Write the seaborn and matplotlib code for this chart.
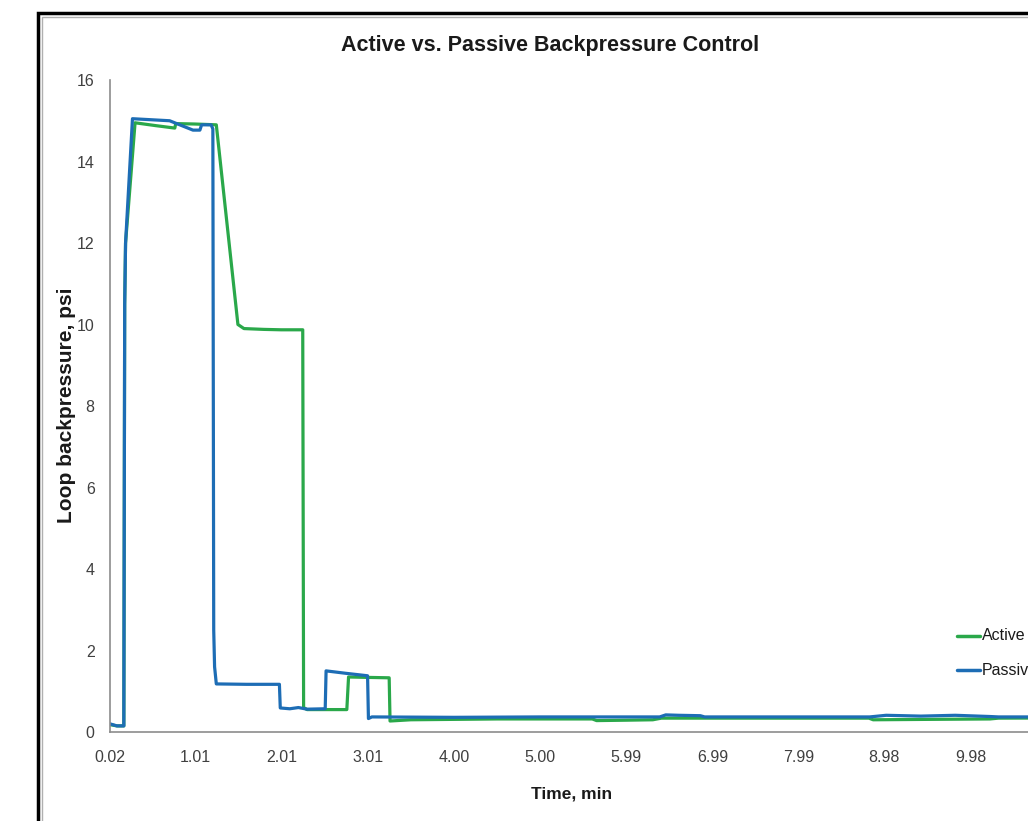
import numpy as np
import pandas as pd
import matplotlib.pyplot as plt
import matplotlib.patches as patches
import seaborn as sns

# readings (time in min, backpressure in psi)
active_time = [0.02, 0.10, 0.18, 0.19, 0.20, 0.31, 0.55, 0.77, 0.78, 1.00, 1.25,
               1.50, 1.57, 1.80, 2.00, 2.25, 2.26, 2.30, 2.50, 2.76, 2.78, 3.00,
               3.25, 3.26, 3.50, 4.50, 5.60, 5.65, 6.00, 6.30, 6.40, 7.50, 8.80,
               8.85, 9.50, 10.20, 10.30, 12.00]
active_psi = [0.18, 0.15, 0.15, 10.5, 12.0, 14.95, 14.88, 14.82, 14.93, 14.92, 14.90,
              10.0, 9.90, 9.88, 9.87, 9.87, 0.60, 0.55, 0.55, 0.55, 1.35, 1.34,
              1.33, 0.27, 0.30, 0.32, 0.32, 0.28, 0.29, 0.30, 0.34, 0.34, 0.34,
              0.30, 0.31, 0.32, 0.34, 0.35]

passive_time = [0.02, 0.10, 0.18, 0.19, 0.20, 0.28, 0.71, 0.98, 1.06, 1.08, 1.19,
                1.21, 1.22, 1.23, 1.25, 1.60, 1.98, 1.99, 2.10, 2.20, 2.30, 2.51,
                2.52, 2.75, 3.00, 3.01, 3.05, 4.00, 5.00, 6.38, 6.45, 6.60, 6.85,
                6.90, 8.00, 8.81, 9.00, 9.40, 9.80, 10.20, 10.30, 12.00]
passive_psi = [0.20, 0.15, 0.15, 10.5, 12.0, 15.05, 15.0, 14.77, 14.77, 14.90, 14.90,
               14.80, 2.50, 1.60, 1.18, 1.17, 1.17, 0.59, 0.57, 0.60, 0.56, 0.57,
               1.50, 1.44, 1.38, 0.33, 0.37, 0.36, 0.37, 0.37, 0.42, 0.41, 0.40,
               0.37, 0.37, 0.37, 0.41, 0.39, 0.41, 0.38, 0.37, 0.37]

tick_pos = [0.02, 1.01, 2.01, 3.01, 4.00, 5.00, 5.99, 6.99, 7.99, 8.98, 9.98]
tick_labels = ['0.02', '1.01', '2.01', '3.01', '4.00', '5.00', '5.99', '6.99',
               '7.99', '8.98', '9.98']

df = pd.concat([
    pd.DataFrame({'time': active_time, 'psi': active_psi, 'series': 'Active'}),
    pd.DataFrame({'time': passive_time, 'psi': passive_psi, 'series': 'Passive'}),
])

sns.set_style('white')
plt.rcParams['font.family'] = ['Liberation Sans', 'DejaVu Sans']

W, H = 1028, 821
fig = plt.figure(figsize=(W / 100, H / 100), dpi=100)

# outer frame of the screenshot (runs off the right and bottom edge)
fig.patches.append(patches.Rectangle((38 / W, -0.1), 2, (H - 13) / H + 0.1,
                                     transform=fig.transFigure, fill=False,
                                     edgecolor='black', linewidth=2.5))
fig.patches.append(patches.Rectangle((42 / W, -0.1), 2, (H - 17) / H + 0.1,
                                     transform=fig.transFigure, fill=False,
                                     edgecolor='#b0b0b0', linewidth=1))

# plot area, wider than the image on purpose (chart is cropped on the right)
x0, x1 = 0.02, 12.0
px_per_min = 86 / 0.995
ax_w = (x1 - x0) * px_per_min
ax = fig.add_axes([110 / W, (H - 732) / H, ax_w / W, 652 / H])

sns.lineplot(data=df, x='time', y='psi', hue='series', sort=False, estimator=None,
             palette={'Active': '#2aa84a', 'Passive': '#1d6db5'}, linewidth=2.3,
             ax=ax, legend=False)

ax.set_xlim(x0, x1)
ax.set_ylim(0, 16)
ax.set_yticks(range(0, 17, 2))
ax.set_xticks(tick_pos)
ax.set_xticklabels(tick_labels)
step = tick_pos[-1] - tick_pos[-2]
ext = tick_pos + [tick_pos[-1] + step, tick_pos[-1] + 2 * step]
mids = [(a + b) / 2 for a, b in zip(ext[:-1], ext[1:])] + ext[len(tick_pos):]
ax.set_xticks(mids, minor=True)
ax.tick_params(axis='both', which='both', direction='out', color='#8c8c8c',
               labelcolor='#404040', labelsize=11.5, width=1)
ax.tick_params(axis='x', which='both', length=6, pad=7)
ax.tick_params(axis='y', length=5, pad=6)
for s in ['top', 'right']:
    ax.spines[s].set_visible(False)
for s in ['left', 'bottom']:
    ax.spines[s].set_color('#8c8c8c')
    ax.spines[s].set_linewidth(1.2)
ax.set_xlabel('')
ax.set_ylabel('')

fig.text(550 / W, 1 - 45 / H, 'Active vs. Passive Backpressure Control',
         ha='center', va='center', fontsize=15.5, fontweight='bold', color='#1a1a1a')
fig.text(572 / W, 1 - 794 / H, 'Time, min', ha='center', va='center',
         fontsize=12.5, fontweight='bold', color='#1a1a1a')
fig.text(67 / W, 1 - 405 / H, 'Loop backpressure, psi', ha='center', va='center',
         rotation=90, fontsize=15, fontweight='bold', color='#1a1a1a')

# legend, cut off by the right edge like the screenshot
for yy, name, col in [(636, 'Active', '#2aa84a'), (670, 'Passive', '#1d6db5')]:
    fig.lines.append(plt.Line2D([957 / W, 980 / W], [1 - yy / H, 1 - yy / H],
                                transform=fig.transFigure, color=col, linewidth=2.5))
    fig.text(982 / W, 1 - yy / H, name, ha='left', va='center', fontsize=11.5,
             color='#1a1a1a')

fig.savefig('out.png', dpi=100)
